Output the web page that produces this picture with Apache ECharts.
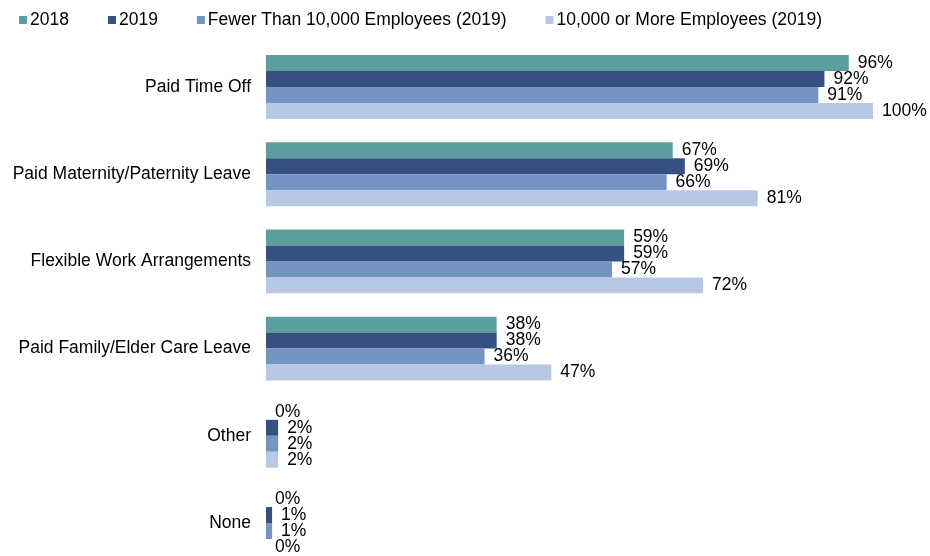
<!DOCTYPE html>
<html>
<head>
<meta charset="utf-8">
<script src="https://cdn.jsdelivr.net/npm/echarts@6/dist/echarts.min.js"></script>
<style>
  html, body { margin: 0; padding: 0; background: #fff; }
  #chart { width: 930px; height: 556px; }
</style>
</head>
<body>
<div id="chart"></div>
<script>
  // categories, top to bottom
  var categories = ['Paid Time Off', 'Paid Maternity/Paternity Leave', 'Flexible Work Arrangements',
                    'Paid Family/Elder Care Leave', 'Other', 'None'];
  var seriesNames = ['2018', '2019', 'Fewer Than 10,000 Employees (2019)', '10,000 or More Employees (2019)'];
  var values2018 = [96, 67, 59, 38, 0, 0];
  var values2019 = [92, 69, 59, 38, 2, 1];
  var valuesSmall = [91, 66, 57, 36, 2, 1];
  var valuesLarge = [100, 81, 72, 47, 2, 0];
  var colors = ['#5c9e9b', '#365181', '#7494c4', '#b7c8e2'];

  var font = 'Arial, "Liberation Sans", sans-serif';
  var allValues = [values2018, values2019, valuesSmall, valuesLarge];

  var series = [];
  for (var i = 0; i < seriesNames.length; i++) {
    series.push({
      name: seriesNames[i],
      type: 'bar',
      data: allValues[i],
      barGap: '0%',
      barCategoryGap: '26.7%',
      itemStyle: { color: colors[i] },
      label: {
        show: true,
        position: 'right',
        distance: 9,
        color: '#000',
        fontFamily: font,
        fontSize: 17.5,
        formatter: function (p) { return p.value + '%'; }
      }
    });
  }

  var myChart = echarts.init(document.getElementById('chart'));
  var option = {
    animation: false,
    legend: {
      data: seriesNames,
      left: 14,
      top: 6,
      itemWidth: 8,
      itemHeight: 8,
      itemGap: 39,
      icon: 'rect',
      textStyle: { color: '#000', fontFamily: font, fontSize: 17.5, padding: [0, 0, 0, -2] }
    },
    grid: {
      left: 266,
      right: 57,
      top: 43.4,
      height: 523.2,
      containLabel: false,
      outerBoundsMode: 'none'
    },
    xAxis: {
      type: 'value',
      min: 0,
      max: 100,
      show: false
    },
    yAxis: {
      type: 'category',
      data: categories,
      inverse: true,
      axisLine: { show: false },
      axisTick: { show: false },
      splitLine: { show: false },
      axisLabel: {
        margin: 15,
        color: '#000',
        fontFamily: font,
        fontSize: 17.5
      }
    },
    series: series
  };
  myChart.setOption(option);
</script>
</body>
</html>
